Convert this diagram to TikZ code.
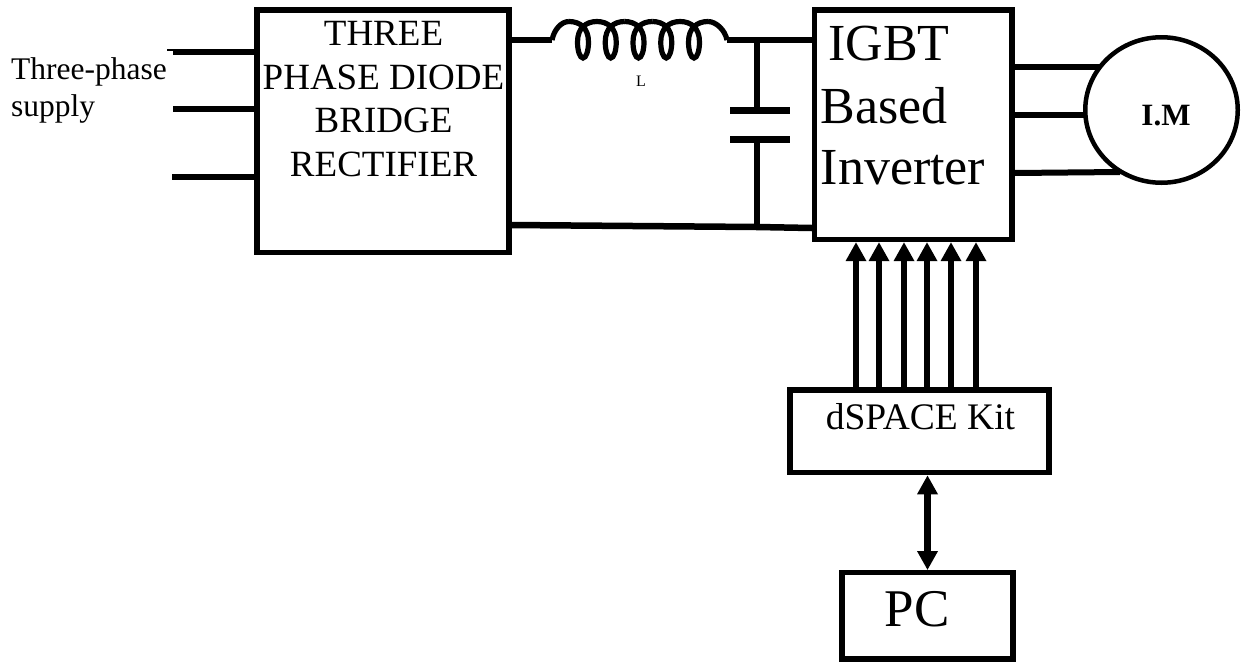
\documentclass[tikz,border=0pt]{standalone}
\usepackage{fontspec}
\setmainfont{Liberation Serif}
\usetikzlibrary{positioning, arrows.meta, shapes.geometric}
\tikzset{
    block/.style={draw, line width=5.2pt, inner sep=0pt},
    label/.style={inner sep=0pt},
    wire/.style={line width=6pt},
    plate/.style={line width=7pt},
    coilwire/.style={line width=5.2pt},
    gate/.style={line width=6.2pt, -{Triangle[width=19.5pt, length=19pt]}},
    link/.style={line width=7pt, {Triangle[width=19.5pt, length=19pt]}-{Triangle[width=19.5pt, length=19pt]}}
}
\newcommand{\fsize}[2]{\fontsize{#1}{#2}\selectfont}
\begin{document}
\begin{tikzpicture}[on grid, auto]
    \useasboundingbox (0pt,0pt) rectangle (1244pt,-662pt);

    % Blocks
    \node[block, minimum width=252pt, minimum height=242.7pt] (rectifier) at (383pt,-131.35pt) {};
    \node[block, minimum width=197.5pt, minimum height=229.5pt, right=530.25pt of rectifier, yshift=6.6pt] (inverter) {};
    \node[block, minimum width=259pt, minimum height=82.7pt, below right=306.55pt and 6.25pt of inverter] (dspace) {};
    \node[block, minimum width=171pt, minimum height=86.3pt, below right=184.55pt and 8pt of dspace] (pc) {};
    \node[draw, ellipse, line width=4.5pt, minimum width=152.5pt, minimum height=145.5pt, inner sep=0pt, right=248.25pt of inverter, yshift=14.75pt] (motor) {};

    % Labels
    \node[label, align=center, font=\fsize{37}{43.5}] (rectifiertext) at (383.5pt,-99pt)
        {THREE\\PHASE DIODE\\BRIDGE\\RECTIFIER};
    \node[label, align=left, anchor=west, font=\fsize{31.5}{37}] (supplytext) at (11pt,-90pt)
        {Three-phase\\supply};
    \node[label, font=\fsize{52}{52}] (igbttext) at (889pt,-44pt) {IGBT};
    \node[label, font=\fsize{52}{52}] (basedtext) at (884pt,-106pt) {Based};
    \node[label, font=\fsize{52}{52}] (invertertext) at (903pt,-168pt) {Inverter};
    \node[label, font=\fsize{37.5}{37.5}] (dspacetext) at (920.5pt,-417pt) {dSPACE Kit};
    \node[label, font=\fsize{53}{53}] (pctext) at (917pt,-609pt) {PC};
    \node[label, font=\bfseries\fsize{31}{31}] (motortext) at (1166pt,-116pt) {I.M};
    \node[label, font=\fsize{16}{16}] (ltext) at (641pt,-81pt) {L};

    % Supply lines
    \coordinate (ina) at (173pt,-52pt);
    \coordinate (inb) at (173pt,-109pt);
    \coordinate (inc) at (172pt,-177pt);
    \draw[wire] (ina) -- (ina -| rectifier.west);
    \draw[wire] (inb) -- (inb -| rectifier.west);
    \draw[wire] (inc) -- (inc -| rectifier.west);
    \draw[line width=1.3pt] (167pt,-50pt) -- (173pt,-50pt);

    % Filter
    \coordinate (stub) at (507pt,-40pt);
    \coordinate (la) at (552pt,-40pt);
    \coordinate (lb) at (727pt,-40pt);
    \coordinate (capa) at (757pt,-110pt);
    \coordinate (capb) at (757pt,-139pt);
    \coordinate (lowa) at (510pt,-225pt);
    \coordinate (lowb) at (757pt,-227pt);
    \draw[wire] (stub) -- (la);
    \draw[wire] (lb) -- (lb -| inverter.west);
    \draw[coilwire] (la) .. controls (554pt,-30pt) and (561pt,-21.5pt) .. (569pt,-21.5pt);
    \foreach \x in {583,610.75,638.5,666.25,694}
        \draw[coilwire, xshift=\x pt] (-14pt,-21.5pt) .. controls (-3pt,-21.5pt) and (5.5pt,-28pt) .. (5.5pt,-42pt)
            .. controls (5.5pt,-51pt) and (3pt,-58pt) .. (0pt,-58pt)
            .. controls (-3pt,-58pt) and (-5.5pt,-51pt) .. (-5.5pt,-42pt)
            .. controls (-5.5pt,-28pt) and (3pt,-21.5pt) .. (14pt,-21.5pt);
    \draw[coilwire] (708pt,-21.5pt) .. controls (716pt,-21.5pt) and (725pt,-30pt) .. (lb);
    \draw[wire] (lb -| capa) -- (capa);
    \draw[wire] (capb) -- (lowb);
    \draw[plate] (730pt,-110pt) -- (790pt,-110pt);
    \draw[plate] (730pt,-139pt) -- (790pt,-139pt);
    \draw[line width=6.5pt] (lowa) -- (lowb) -- (inverter.west |- 0,-228pt);

    % Motor lines
    \draw[wire] (inverter.east |- 0,-67pt) -- (1100pt,-67pt);
    \draw[wire] (inverter.east |- 0,-115pt) -- (1085pt,-115pt);
    \draw[wire] (inverter.east |- 0,-173pt) -- (1120pt,-172pt);

    % Gate signals
    \foreach \x in {856,879,904,927,951,976}
        \draw[gate] (\x pt,0 |- dspace.north) -- (\x pt,0 |- inverter.south);

    % PC link
    \draw[link] (pc.north) -- (pc.north |- dspace.south);
\end{tikzpicture}
\end{document}
